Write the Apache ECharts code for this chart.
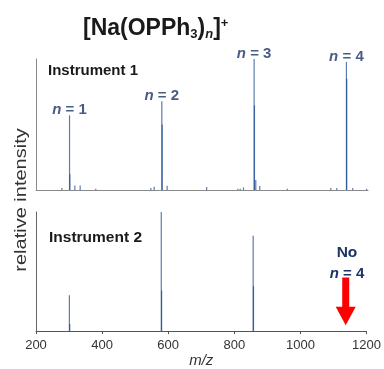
<!DOCTYPE html>
<html>
<head>
<meta charset="utf-8">
<script src="https://cdn.jsdelivr.net/npm/echarts@6/dist/echarts.min.js"></script>
<style>
  html, body { margin: 0; padding: 0; background: #fff; }
  #chart { width: 384px; height: 369px; }
</style>
</head>
<body>
<div id="chart"></div>
<script>
// spectrum from instrument 1 (m/z, relative intensity %)
const mz1 = [278, 301, 302, 317, 333, 380, 546, 556, 579, 580, 595, 714, 808, 815, 825, 857, 858, 862, 874, 957, 1088, 1106, 1135, 1136, 1154, 1196];
const int1 = [1.5, 57, 12, 3.5, 3.5, 1, 1.5, 2.5, 67.7, 50, 3.3, 2.3, 1, 1, 2, 100, 64.6, 7.7, 3, 1, 1.5, 1.5, 97.7, 85, 1.5, 1];

// spectrum from instrument 2
const mz2 = [301, 302, 579, 580, 857, 858];
const int2 = [30, 6, 100, 34, 80, 37.7];

// cluster peaks labelled n = 1..4
const clusterMz = [301, 579, 857, 1135];
const clusterInt = [57, 67.7, 100, 97.7];
const clusterN = ['1', '2', '3', '4'];

const xTicks = [200, 400, 600, 800, 1000, 1200];

const FONT = 'Arial, "Liberation Sans", sans-serif';
const NAVY = '#1b3366';
const PEAK = '#1a4b92';

const chart = echarts.init(document.getElementById('chart'), null, { renderer: 'canvas' });

function zip(a, b) {
  return a.map((v, i) => [v, b[i]]);
}

function renderPeak(params, api) {
  const base = api.coord([api.value(0), 0]);
  const top = api.coord([api.value(0), api.value(1)]);
  return {
    type: 'line',
    shape: { x1: base[0], y1: base[1], x2: top[0], y2: top[1] },
    style: { stroke: PEAK, lineWidth: 1.2, opacity: 0.72 }
  };
}

// red arrow pointing at the missing n = 4 peak
function renderArrow(params, api) {
  const top = api.coord([api.value(0), api.value(1)]);
  const neck = api.coord([api.value(0), api.value(2)]);
  const tip = api.coord([api.value(0), api.value(3)]);
  const x = top[0];
  return {
    type: 'group',
    children: [
      { type: 'rect', shape: { x: x - 3.5, y: top[1], width: 7, height: neck[1] - top[1] + 1 }, style: { fill: '#ff0000' } },
      { type: 'polygon', shape: { points: [[x - 10, neck[1]], [x + 10, neck[1]], [x, tip[1]]] }, style: { fill: '#ff0000' } }
    ]
  };
}

const hiddenAxis = {
  min: 200, max: 1200, interval: 200,
  axisLabel: { show: false }, axisTick: { show: false }, splitLine: { show: false }
};

chart.setOption({
  animation: false,
  title: {
    text: '{b|[Na(OPPh}{sub|3}{b|)}{subi|n}{b|]}{sup|+}',
    left: 78, top: 12,
    textStyle: {
      rich: {
        b: { fontFamily: FONT, fontWeight: 'bold', fontSize: 23, color: '#1a1a1a' },
        sub: { fontFamily: FONT, fontWeight: 'bold', fontSize: 13, color: '#1a1a1a', padding: [11, 0, 0, 0] },
        subi: { fontFamily: FONT, fontWeight: 'bold', fontStyle: 'italic', fontSize: 13, color: '#1a1a1a', padding: [11, 0, 0, 0] },
        sup: { fontFamily: FONT, fontWeight: 'bold', fontSize: 13, color: '#1a1a1a', padding: [0, 0, 11, 0] }
      }
    }
  },
  grid: [
    { left: 36, top: 59, width: 332, height: 131 },
    { left: 36, top: 212, width: 332, height: 130 }
  ],
  xAxis: [
    Object.assign({ type: 'value', gridIndex: 0, axisLine: { lineStyle: { color: '#8a8a8a', width: 1 } } }, hiddenAxis),
    {
      type: 'value', gridIndex: 1, min: 200, max: 1200, interval: 200,
      name: 'm/z', nameLocation: 'middle', nameGap: 17,
      nameTextStyle: { fontFamily: FONT, fontStyle: 'italic', fontSize: 15, color: '#333' },
      axisLine: { lineStyle: { color: '#555', width: 1 } },
      axisTick: { show: true, length: 3, lineStyle: { color: '#555' } },
      axisLabel: {
        margin: 8, fontFamily: FONT, fontSize: 13, color: '#333',
        formatter: v => (xTicks.indexOf(v) >= 0 ? String(v) : '')
      },
      splitLine: { show: false }
    }
  ],
  yAxis: [
    {
      type: 'value', gridIndex: 0, min: 0, max: 100,
      axisLine: { show: true, lineStyle: { color: '#8a8a8a' } },
      axisTick: { show: false }, axisLabel: { show: false }, splitLine: { show: false }
    },
    {
      type: 'value', gridIndex: 1, min: 0, max: 100,
      axisLine: { show: true, lineStyle: { color: '#666' } },
      axisTick: { show: false }, axisLabel: { show: false }, splitLine: { show: false }
    }
  ],
  graphic: [
    {
      type: 'text', left: 48, top: 63.5,
      style: { text: 'Instrument 1', fontFamily: FONT, fontWeight: 'bold', fontSize: 15, fill: '#1a1a1a' }
    },
    {
      type: 'text', left: 49, top: 230,
      style: { text: 'Instrument 2', fontFamily: FONT, fontWeight: 'bold', fontSize: 15.5, fill: '#1a1a1a' }
    },
    {
      type: 'text', x: 21.5, y: 200, rotation: Math.PI / 2, scaleX: 1.25,
      style: { text: 'relative intensity', fontFamily: FONT, fontSize: 16, fill: '#333', align: 'center', verticalAlign: 'middle' }
    },
    {
      type: 'text', x: 347, y: 253,
      style: { text: 'No', fontFamily: FONT, fontWeight: 'bold', fontSize: 15.5, fill: NAVY, align: 'center', verticalAlign: 'middle' }
    },
    {
      type: 'text', x: 347, y: 274,
      style: {
        text: '{i|n} = 4', fontFamily: FONT, fontWeight: 'bold', fontSize: 15, fill: NAVY, align: 'center', verticalAlign: 'middle',
        rich: { i: { fontFamily: FONT, fontWeight: 'bold', fontStyle: 'italic', fontSize: 15, color: NAVY } }
      }
    }
  ],
  series: [
    {
      type: 'custom', xAxisIndex: 0, yAxisIndex: 0,
      renderItem: renderPeak, data: zip(mz1, int1), silent: true
    },
    {
      type: 'custom', xAxisIndex: 1, yAxisIndex: 1,
      renderItem: renderPeak, data: zip(mz2, int2), silent: true
    },
    {
      type: 'scatter', xAxisIndex: 0, yAxisIndex: 0, symbolSize: 0, silent: true,
      data: zip(clusterMz, clusterInt),
      label: {
        show: true, position: 'top', distance: 3, offset: [0, 5],
        formatter: p => '{i|n}{r| = ' + clusterN[p.dataIndex] + '}',
        rich: {
          i: { fontFamily: FONT, fontWeight: 'bold', fontStyle: 'italic', fontSize: 15, color: NAVY },
          r: { fontFamily: FONT, fontWeight: 'bold', fontSize: 15, color: NAVY }
        }
      }
    },
    {
      type: 'custom', xAxisIndex: 1, yAxisIndex: 1, silent: true,
      renderItem: renderArrow, data: [[1137, 45, 20.5, 5]]
    }
  ]
});
</script>
</body>
</html>
